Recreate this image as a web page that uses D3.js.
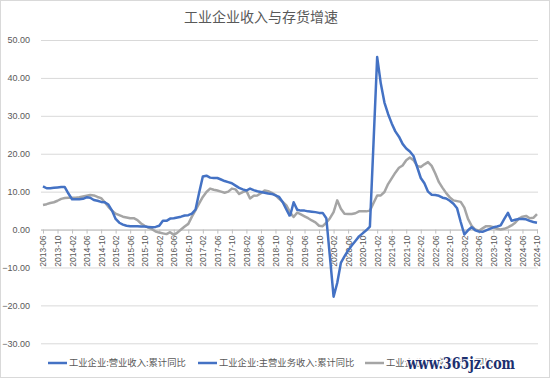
<!DOCTYPE html>
<html>
<head>
<meta charset="utf-8">
<script src="https://cdn.jsdelivr.net/npm/d3@7/dist/d3.min.js"></script>
<style>
html,body{margin:0;padding:0;background:#fff;}
svg{display:block;}
</style>
</head>
<body>
<div id="chart"></div>
<script>
// ---------- DATA ----------
const title = "工业企业收入与存货增速";
const startMonth = "2013-06";
const endMonth = "2024-10";
// categories: every month 2013-06 .. 2024-10
const fmt = d3.timeFormat("%Y-%m");
const parse = d3.timeParse("%Y-%m");
const months = d3.timeMonth.range(parse(startMonth), d3.timeMonth.offset(parse(endMonth), 1)).map(fmt);

const tickLabels = ["2013-06","2013-10","2014-02","2014-06","2014-10","2015-02","2015-06","2015-10",
  "2016-02","2016-06","2016-10","2017-02","2017-06","2017-10","2018-02","2018-06","2018-10",
  "2019-02","2019-06","2019-10","2020-02","2020-06","2020-10","2021-02","2021-06","2021-10",
  "2022-02","2022-06","2022-10","2023-02","2023-06","2023-10","2024-02","2024-06","2024-10"];

const yTicks = [50,40,30,20,10,0,-10,-20,-30];

const seriesNames = ["工业企业:营业收入:累计同比","工业企业:主营业务收入:累计同比","工业企业:产成品存货:同比"];

// 工业企业:主营业务收入:累计同比  (2013-06 .. 2019-02)
const mainRevenue = [11.4,10.9,10.9,11.0,11.1,11.2,11.2,9.5,8.0,8.0,
  8.0,8.1,8.5,8.4,7.8,7.6,7.3,7.2,6.6,5.0,
  2.8,1.8,1.3,1.0,0.9,0.9,0.9,0.8,0.8,0.7,
  0.6,0.7,1.0,2.3,2.3,2.9,3.0,3.2,3.4,3.7,
  3.8,4.2,5.3,9.8,14.0,14.2,13.7,13.6,13.6,13.2,
  12.8,12.5,12.2,11.6,11.0,10.6,10.3,10.8,10.4,10.1,
  9.9,9.7,9.5,9.4,9.0,8.6,7.2,5.3,3.5];

// 工业企业:营业收入:累计同比 (2019-02 .. 2024-10)
const revenue = [3.5,7.2,5.2,5.0,5.0,4.8,4.7,4.6,4.4,4.4,
  3.0,-7.3,-17.7,-14.1,-8.8,-7.1,-5.5,-4.2,-3.0,-1.8,
  -1.0,-0.2,0.8,23.0,45.5,38.5,33.5,30.5,28.0,25.9,
  24.5,22.6,21.4,20.6,19.4,16.5,13.6,12.2,10.0,9.2,
  9.1,8.9,8.4,8.2,7.6,6.8,5.6,2.0,-1.3,-0.2,
  0.6,-0.2,-0.5,-0.6,-0.2,0.2,0.6,0.8,1.1,2.8,
  4.4,2.3,2.6,2.8,2.8,2.7,2.3,2.0,1.8];

// 工业企业:产成品存货:同比 (2013-06 .. 2024-10)
const inventory = [6.5,6.7,7.0,7.2,7.6,8.1,8.3,8.4,8.4,8.4,
  8.5,8.7,8.9,9.1,9.0,8.6,8.3,7.2,6.0,5.0,
  4.2,3.8,3.4,3.2,3.0,3.0,2.5,1.6,1.0,0.5,
  0.1,-0.5,-0.8,-1.0,-1.2,-0.7,-1.4,-0.8,0.0,0.8,
  1.5,3.4,5.1,6.9,8.6,9.9,10.8,10.5,10.3,10.0,
  9.7,10.0,10.8,10.6,9.4,9.9,10.2,8.2,8.9,9.0,
  9.6,10.3,10.1,9.7,9.1,8.1,7.3,6.4,4.6,3.3,
  4.5,4.0,3.5,3.0,2.4,1.9,1.0,0.9,1.8,3.0,
  4.6,7.7,5.5,4.2,4.1,4.1,4.3,4.8,4.8,4.8,
  5.0,7.0,9.0,9.0,9.9,12.0,13.5,15.0,16.3,16.9,
  18.3,19.0,18.3,16.8,16.5,17.2,17.8,16.8,14.8,12.5,
  11.0,9.6,8.5,7.7,7.5,7.3,5.8,2.8,1.0,0.0,
  -0.3,0.3,0.9,0.9,0.6,0.2,0.0,0.2,0.6,1.1,
  1.8,2.9,3.4,3.6,3.0,3.1,4.1];

const mainStart = "2013-06";
const revStart = "2019-02";
const invStart = "2013-06";

// ---------- CHART ----------
const W = 550, H = 378;
const svg = d3.select("#chart").append("svg").attr("width", W).attr("height", H);
const fontCJK = "'Noto Sans CJK SC','Noto Sans',sans-serif";
const fontNum = "'Liberation Sans','DejaVu Sans',sans-serif";
const textCol = "#595959";

svg.append("rect").attr("x",0.5).attr("y",0.5).attr("width",W-1).attr("height",H-1)
  .attr("fill","#fff").attr("stroke","#d9d9d9");

svg.append("text").attr("x",261).attr("y",18).attr("text-anchor","middle")
  .attr("dominant-baseline","middle")
  .attr("font-family",fontCJK).attr("font-size",14).attr("fill",textCol).text(title);

const x = d3.scalePoint().domain(months).range([43, 537]);
const y = d3.scaleLinear().domain([-30, 50]).range([343.3, 40]);

// gridlines + y labels
const yAxis = d3.axisLeft(y).tickValues(yTicks).tickSize(-(538-41)).tickFormat(d3.format(".2f")).tickPadding(11);
const gy = svg.append("g").attr("transform","translate(41,0)").call(yAxis);
gy.select(".domain").remove();
gy.selectAll(".tick line").attr("stroke","#d9d9d9").attr("stroke-width",1);
gy.selectAll(".tick text").attr("font-family",fontNum).attr("font-size",9).attr("fill",textCol);

// x axis at zero
const xAxis = d3.axisBottom(x).tickValues(tickLabels).tickSize(4).tickFormat(d => d);
const gx = svg.append("g").attr("transform",`translate(0,${y(0)})`).call(xAxis);
gx.select(".domain").attr("d", `M41,0.5H538`).attr("stroke","#bfbfbf");
gx.selectAll(".tick line").attr("stroke","#bfbfbf");
gx.selectAll(".tick text")
  .attr("font-family",fontNum).attr("font-size",8.5).attr("fill",textCol)
  .attr("transform","rotate(-90)").attr("text-anchor","end")
  .attr("x",-6).attr("y",0).attr("dy","0.35em");

function series(vals, start){
  const i0 = months.indexOf(start);
  return vals.map((v,i)=>({m: months[i0+i], v}));
}
const line = d3.line().x(d=>x(d.m)).y(d=>y(d.v)).defined(d=>d.v!=null);

const blue = "#4472c4", grey = "#a5a5a5";
svg.append("path").datum(series(inventory, invStart)).attr("d",line)
  .attr("fill","none").attr("stroke",grey).attr("stroke-width",2.5).attr("stroke-linejoin","round");
svg.append("path").datum(series(mainRevenue, mainStart)).attr("d",line)
  .attr("fill","none").attr("stroke",blue).attr("stroke-width",2.5).attr("stroke-linejoin","round");
svg.append("path").datum(series(revenue, revStart)).attr("d",line)
  .attr("fill","none").attr("stroke",blue).attr("stroke-width",2.5).attr("stroke-linejoin","round");

// legend
const legendItems = [
  {name: seriesNames[0], color: blue, x: 48},
  {name: seriesNames[1], color: blue, x: 198},
  {name: seriesNames[2], color: grey, x: 365}
];
const ly = 363;
const lg = svg.append("g");
legendItems.forEach(it=>{
  lg.append("line").attr("x1",it.x).attr("x2",it.x+19).attr("y1",ly).attr("y2",ly)
    .attr("stroke",it.color).attr("stroke-width",2.5);
  lg.append("text").attr("x",it.x+21).attr("y",ly).attr("dominant-baseline","middle")
    .attr("font-family",fontCJK).attr("font-size",9.3).attr("fill",textCol).text(it.name);
});

// watermark
svg.append("text").attr("x",407).attr("y",ly+1).attr("dominant-baseline","middle")
  .attr("font-family","'DejaVu Serif',serif").attr("font-weight","bold").attr("font-size",17)
  .attr("textLength",108).attr("lengthAdjust","spacingAndGlyphs")
  .attr("fill","#1c2f6e").attr("stroke","#fff").attr("stroke-width",3).attr("paint-order","stroke")
  .text("www.365jz.com");
</script>
</body>
</html>
